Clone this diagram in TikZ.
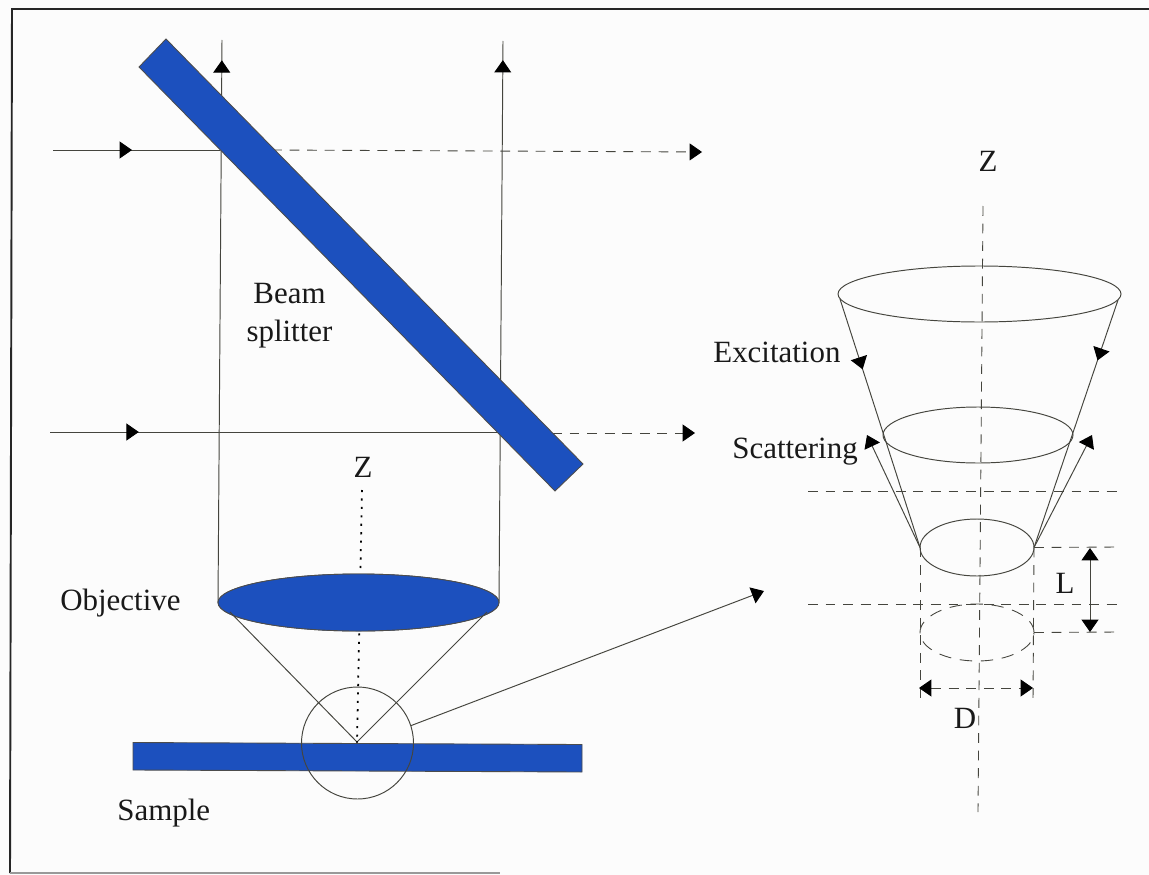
\documentclass[tikz,border=0pt]{standalone}
\usepackage{fontspec}
\setmainfont{Liberation Serif}
\usetikzlibrary{arrows.meta,decorations.markings,shapes.geometric,calc}
\definecolor{bluefill}{HTML}{1C50BE}
\definecolor{ink}{HTML}{45453E}
\tikzset{
  tri/.tip={Triangle[length=7pt,width=9.6pt,color=black]},
  beam/.style={draw=ink,line width=0.55pt},
  dash line/.style={draw=ink,line width=0.5pt,dash pattern=on 5.6pt off 4.4pt},
  dot line/.style={draw=black,line width=1pt,dash pattern=on 1.2pt off 3.6pt},
  frame/.style={draw=black!85,line width=1.1pt},
  solidblue/.style={draw=black!70,fill=bluefill,line width=0.5pt},
  label/.style={font=\fontsize{17.6pt}{20pt}\selectfont,inner sep=0pt,text=black!90},
  ring/.style={ellipse,draw=ink,line width=0.55pt,inner sep=0pt,outer sep=0pt},
  midarrow/.style={postaction={decorate,decoration={markings,mark=at position #1 with {\arrow{tri}}}}},
}
\begin{document}
\begin{tikzpicture}[x=0.02cm,y=-0.02cm]
\useasboundingbox (0,0) rectangle (1149,875);
\fill[white!99!black] (0,0) rectangle (1149,875);
% frame
\coordinate (f1) at (1149,9); \coordinate (f2) at (12,9); \coordinate (f3) at (10,873); \coordinate (f4) at (500,873);
\draw[frame] (f1) -- (f2) -- (f3);
\draw[draw=black!40,line width=1pt] (f3) -- (f4);
% named points, left part
\coordinate (v1t) at (222,40); \coordinate (v2t) at (503,41);
\coordinate (h1a) at (53,150); \coordinate (h1b) at (220,150); \coordinate (h1c) at (272,150); \coordinate (h1d) at (702,152);
\coordinate (h2a) at (50,432); \coordinate (h2b) at (503,432); \coordinate (h2c) at (552,433); \coordinate (h2d) at (695,433);
\coordinate (apex) at (357,742);
\coordinate (objL) at (230,612); \coordinate (objR) at (487,612);
\coordinate (zin) at (362,490);
\coordinate (zoomtip) at (764,591);
% objective node first, so lines can refer to it
\node[ring,solidblue,minimum width=281*0.02cm,minimum height=57*0.02cm] (obj) at (358.5,602.5) {};
% lines under the optics
\draw[dot line] (zin) -- (apex);
\draw[beam,midarrow=0.964] (obj.west) -- (v1t);
\draw[beam,midarrow=0.966] (obj.east) -- (v2t);
\draw[beam,midarrow=0.473] (h1a) -- (h1b);
\draw[dash line,-{tri}] (h1c) -- (h1d);
\draw[beam,midarrow=0.196] (h2a) -- (h2b);
\draw[dash line,-{tri}] (h2c) -- (h2d);
% splitter
\filldraw[solidblue] (166,39) coordinate (s1) -- (583,464) coordinate (s2) -- (555,491) coordinate (s3) -- (139,67) coordinate (s4) -- cycle;
% objective on top
\node[ring,solidblue,minimum width=281*0.02cm,minimum height=57*0.02cm] at (358.5,602.5) {};
\draw[beam] (objL) -- (apex) -- (objR);
% sample
\filldraw[solidblue] (133,742.5) -- (582,744.5) -- (582,772) -- (133,770) -- cycle;
\fill[black] (apex) circle (0.7pt);
% zoom circle
\node[circle,draw=ink,line width=0.55pt,inner sep=0pt,outer sep=0pt,minimum size=112*0.02cm] (zc) at (357.5,743) {};
\draw[beam,-{tri}] (zc.18) -- (zoomtip);
% labels left
\node[label,anchor=base] (lbeam) at (289.5,303) {Beam};
\node[label,anchor=base] (lsplit) at (289.5,341) {splitter};
\node[label,anchor=base] (lz1) at (363,477) {Z};
\node[label,anchor=base west] (lobj) at (60,610) {Objective};
\node[label,anchor=base west] (lsam) at (117,820) {Sample};
% right part
\coordinate (zt) at (983,206); \coordinate (zb) at (978,812);
\draw[dash line] (zt) -- (zb);
\node[ring,minimum width=283*0.02cm,minimum height=56*0.02cm] (e1) at (979.5,294) {};
\node[ring,minimum width=190*0.02cm,minimum height=56*0.02cm] (e2) at (978,435) {};
\node[ring,minimum width=114*0.02cm,minimum height=57*0.02cm] (e3) at (977,547.5) {};
\node[ring,dash pattern=on 7pt off 5pt,line width=0.5pt,minimum width=114*0.02cm,minimum height=57*0.02cm] (e4) at (977,632.5) {};
\coordinate (a1) at (808,491); \coordinate (a2) at (1120,491);
\coordinate (b1) at (808,604); \coordinate (b2) at (1120,604);
\coordinate (c2) at (1120,547); \coordinate (d2) at (1120,632);
\coordinate (l1) at (920,702); \coordinate (l2) at (1033,702);
\draw[dash line] (a1) -- (a2);
\draw[dash line] (b1) -- (b2);
\draw[dash line] (e3.east) -- (c2);
\draw[dash line] (e4.east) -- (d2);
\draw[dash line] (e3.west) -- (l1);
\draw[dash line] (e3.east) -- (l2);
% L and D arrows
\coordinate (la) at (1090,548); \coordinate (lb) at (1090,632);
\draw[beam,{tri}-{tri}] (la) -- (lb);
\coordinate (da) at (919,688); \coordinate (db) at (1033,688);
\draw[dash line,{tri}-{tri}] (da) -- (db);
% excitation cone
\coordinate (e1L) at (840,299); \coordinate (e1R) at (1118,300);
\draw[beam,midarrow=0.283] (e1L) -- (e3.west);
\draw[beam,midarrow=0.244] (e1R) -- (e3.east);
% scattering
\coordinate (sL) at (867,435); \coordinate (sR) at (1092,435);
\draw[beam,-{tri}] (e3.west) -- (sL);
\draw[beam,-{tri}] (e3.east) -- (sR);
% labels right
\node[label,anchor=base] (lz2) at (988,172) {Z};
\node[label,anchor=base west] (lexc) at (713,362) {Excitation};
\node[label,anchor=base west] (lsca) at (732,458) {Scattering};
\node[label,anchor=base] (ll) at (1065,593) {L};
\node[label,anchor=base] (ld) at (965,728) {D};
\end{tikzpicture}
\end{document}
